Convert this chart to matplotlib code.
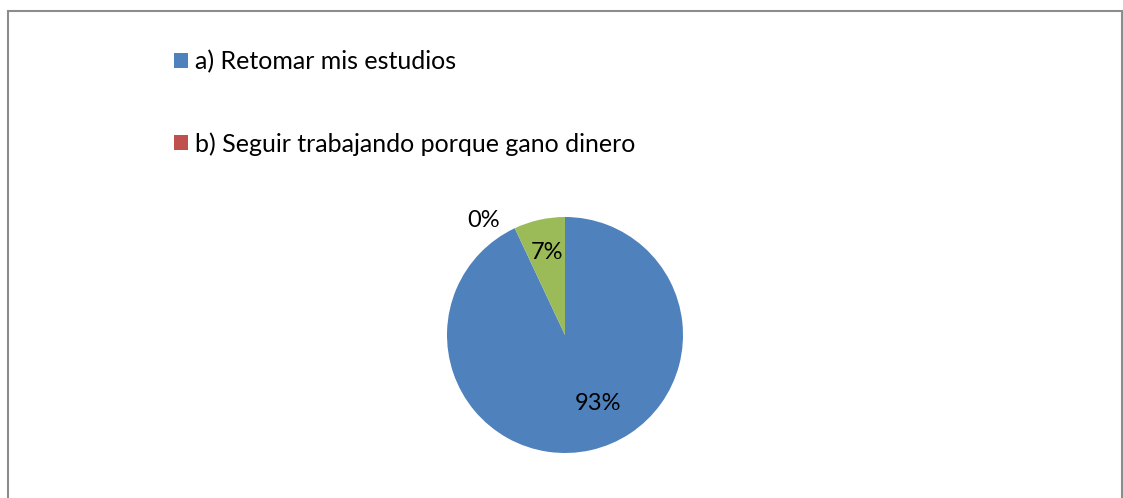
import matplotlib
matplotlib.use("Agg")
import matplotlib.pyplot as plt
from matplotlib.patches import Rectangle, Patch

categories = ["a) Retomar mis estudios", "b) Seguir trabajando porque gano dinero", "c)"]
values = [93, 0, 7]
colors = ["#4F81BD", "#C0504D", "#9BBB59"]
# label offsets in pie-radius units
label_pos = [(0.28, -0.58), (-0.69, 0.97), (-0.15, 0.70)]

plt.rcParams["font.family"] = ["Lato", "DejaVu Sans"]

W, H = 1123, 498
fig = plt.figure(figsize=(W / 100, H / 100), dpi=100)
fig.patch.set_facecolor("white")

# chart frame
fig.add_artist(Rectangle((8 / W, -0.05), (1122 - 8) / W, 1.05 - 11 / H,
                         transform=fig.transFigure, fill=False,
                         edgecolor="#8C8C8C", linewidth=1.5))

cx, cy, r = 565, H - 335, 118
ax = fig.add_axes([(cx - r) / W, (cy - r) / H, 2 * r / W, 2 * r / H])
wedges, _ = ax.pie(values, colors=colors, startangle=90, counterclock=False,
                   radius=1, wedgeprops=dict(linewidth=0))
ax.set_xlim(-1, 1)
ax.set_ylim(-1, 1)
ax.set_aspect("equal")
ax.axis("off")

for v, (x, y) in zip(values, label_pos):
    ax.text(x, y, f"{v}%", ha="center", va="center", fontsize=17,
            color="black", clip_on=False)

handles = [Patch(facecolor=c, edgecolor="none") for c in colors[:2]]
fig.legend(handles, categories[:2], loc="upper left",
           bbox_to_anchor=(174 / W, 1 - 50 / H), frameon=False,
           fontsize=18, labelspacing=2.35, handlelength=0.55,
           handleheight=0.55, handletextpad=0.3, borderpad=0,
           borderaxespad=0)

fig.savefig("out.png", dpi=100)
